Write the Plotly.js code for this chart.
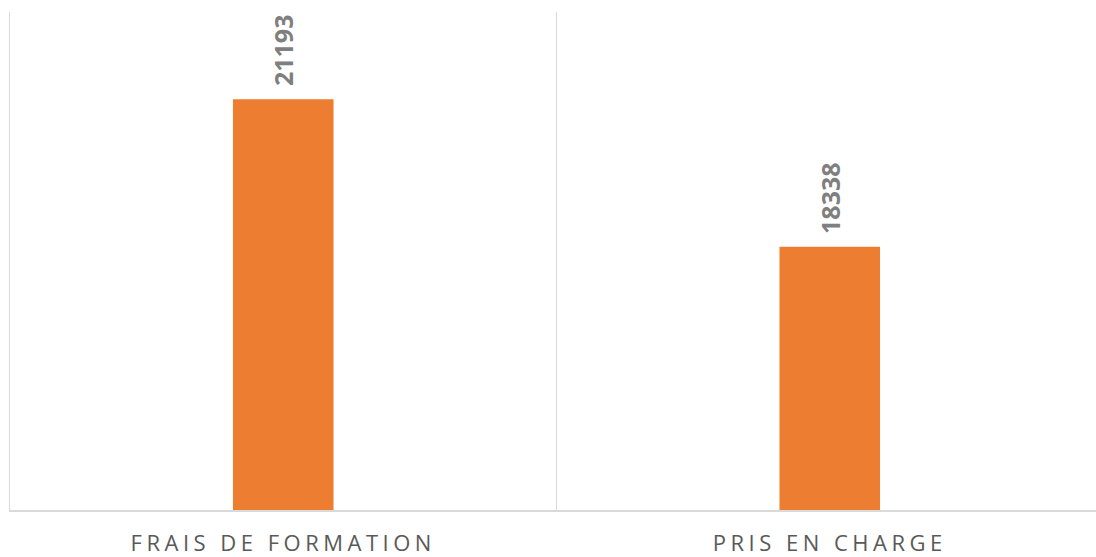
<!DOCTYPE html>
<html>
<head>
<meta charset="utf-8">
<script src="https://cdn.plot.ly/plotly-3.0.1.min.js"></script>
<style>
  html, body { margin: 0; padding: 0; overflow: hidden; background: #fff; }
  #chart { width: 1104px; height: 557px; }
  .xtick text { letter-spacing: 4.5px; }
</style>
</head>
<body>
<div id="chart"></div>
<script>
const categories = ['FRAIS DE FORMATION', 'PRIS EN CHARGE'];
const values = [21193, 18338];
const valueLabels = values.map(v => String(v));

const trace = {
  type: 'bar',
  x: categories,
  y: values,
  width: 0.184,
  marker: { color: '#ed7d31', line: { width: 0 } },
  hoverinfo: 'none'
};

const annotations = categories.map((c, i) => ({
  x: c,
  y: values[i],
  xref: 'x',
  yref: 'y',
  text: valueLabels[i],
  showarrow: false,
  textangle: -90,
  xanchor: 'center',
  yanchor: 'bottom',
  yshift: 11,
  font: { family: 'Open Sans', size: 25, color: '#7f7f7f', weight: 'bold' }
}));

const layout = {
  width: 1104,
  height: 557,
  margin: { l: 10, r: 1, t: 12, b: 47 },
  paper_bgcolor: '#ffffff',
  plot_bgcolor: '#ffffff',
  showlegend: false,
  xaxis: {
    type: 'category',
    range: [-0.5, 1.5],
    tickson: 'boundaries',
    showgrid: true,
    gridcolor: '#d9d9d9',
    gridwidth: 1.5,
    showline: true,
    linecolor: '#d9d9d9',
    linewidth: 2,
    ticks: '',
    zeroline: false,
    ticklabelstandoff: 13,
    tickfont: { family: 'Open Sans', size: 22, color: '#595959' }
  },
  yaxis: {
    range: [13238, 22884],
    showgrid: false,
    zeroline: false,
    showticklabels: false,
    showline: true,
    linecolor: '#d9d9d9',
    linewidth: 1.5,
    ticks: ''
  },
  annotations: annotations
};

Plotly.newPlot('chart', [trace], layout, { staticPlot: true, displayModeBar: false });
</script>
</body>
</html>
